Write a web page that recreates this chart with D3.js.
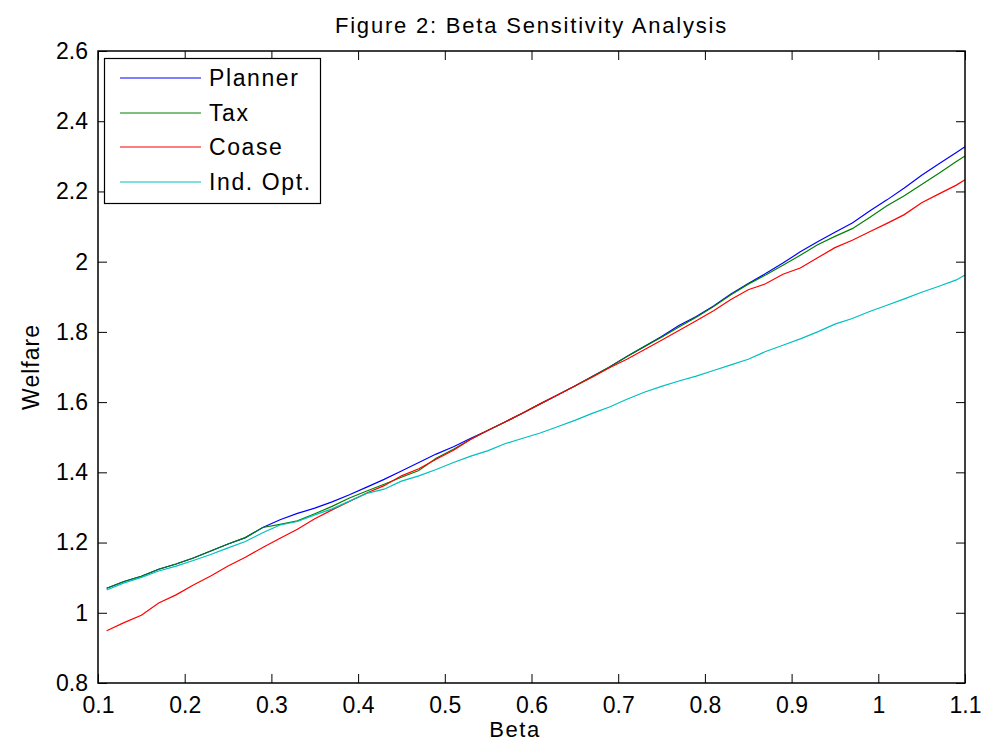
<!DOCTYPE html>
<html>
<head>
<meta charset="utf-8">
<script src="https://cdn.jsdelivr.net/npm/d3@7"></script>
<style>
  html, body { margin: 0; padding: 0; background: #fff; }
  svg { display: block; }
  text { font-family: "Liberation Sans", Arial, Helvetica, sans-serif; fill: #000; }
</style>
</head>
<body>
<svg id="chart" width="981" height="742"></svg>
<script>
const betas = [0.11,0.13,0.15,0.17,0.19,0.21,0.23,0.25,0.27,0.29,0.31,0.33,0.35,0.37,0.39,0.41,0.43,0.45,0.47,0.49,
  0.51,0.53,0.55,0.57,0.59,0.61,0.63,0.65,0.67,0.69,0.71,0.73,0.75,0.77,0.79,0.81,0.83,0.85,0.87,0.89,
  0.91,0.93,0.95,0.97,0.99,1.01,1.03,1.05,1.07,1.09,1.10];

const planner = [1.070,1.089,1.104,1.124,1.139,1.156,1.176,1.196,1.214,1.243,1.265,1.283,1.298,1.316,1.336,1.358,1.380,1.404,1.428,1.452,
  1.473,1.497,1.520,1.544,1.569,1.595,1.620,1.646,1.673,1.700,1.730,1.758,1.787,1.818,1.844,1.874,1.908,1.938,1.966,1.996,
  2.028,2.057,2.084,2.110,2.144,2.176,2.210,2.246,2.279,2.311,2.327];

const tax = [1.070,1.089,1.104,1.124,1.139,1.156,1.176,1.196,1.214,1.243,1.252,1.262,1.282,1.303,1.327,1.347,1.366,1.386,1.405,1.440,
  1.466,1.494,1.520,1.544,1.569,1.595,1.620,1.646,1.673,1.700,1.730,1.758,1.785,1.814,1.842,1.872,1.906,1.936,1.962,1.990,
  2.018,2.048,2.072,2.094,2.126,2.159,2.188,2.220,2.252,2.285,2.301];

const coase = [0.949,0.972,0.993,1.028,1.051,1.079,1.105,1.133,1.158,1.186,1.212,1.238,1.268,1.293,1.317,1.341,1.362,1.390,1.410,1.437,
  1.463,1.494,1.520,1.544,1.569,1.595,1.620,1.646,1.671,1.698,1.722,1.749,1.776,1.804,1.832,1.860,1.892,1.920,1.937,1.964,
  1.982,2.011,2.040,2.061,2.085,2.109,2.134,2.168,2.193,2.218,2.233];

const indOpt = [1.065,1.085,1.101,1.119,1.133,1.149,1.166,1.185,1.203,1.228,1.250,1.260,1.279,1.296,1.318,1.340,1.352,1.375,1.390,1.408,
  1.428,1.446,1.462,1.482,1.497,1.512,1.530,1.548,1.568,1.586,1.608,1.628,1.645,1.660,1.674,1.690,1.706,1.722,1.744,1.762,
  1.780,1.800,1.822,1.838,1.858,1.876,1.894,1.913,1.930,1.948,1.962];

const seriesNames = ["Planner", "Tax", "Coase", "Ind. Opt."];
const seriesColors = ["#0000ff", "#008000", "#ff0000", "#00bfbf"];
const xTicks = [0.1,0.2,0.3,0.4,0.5,0.6,0.7,0.8,0.9,1,1.1];
const yTicks = [0.8,1,1.2,1.4,1.6,1.8,2,2.2,2.4,2.6];
const titleText = "Figure 2: Beta Sensitivity Analysis";
const xLabel = "Beta";
const yLabel = "Welfare";

const allSeries = [planner, tax, coase, indOpt];

(function () {
  const L = 98, R = 965, T = 51, B = 683;
  const svg = d3.select("#chart");
  const x = d3.scaleLinear().domain([0.1, 1.1]).range([L, R]);
  const y = d3.scaleLinear().domain([0.8, 2.6]).range([B, T]);
  const fmt = d => String(+d.toFixed(2));

  // lines
  const line = d3.line().x(d => x(d[0])).y(d => y(d[1]));
  allSeries.forEach((s, i) => {
    svg.append("path")
      .datum(betas.map((b, k) => [b, s[k]]))
      .attr("fill", "none")
      .attr("stroke", seriesColors[i])
      .attr("stroke-width", 1.2)
      .attr("d", line);
  });

  // axes (inward ticks on all four sides)
  const tl = 9;
  const gBottom = svg.append("g").attr("transform", `translate(0,${B})`)
    .call(d3.axisBottom(x).tickValues(xTicks).tickFormat(fmt).tickSizeInner(-tl).tickSizeOuter(0).tickPadding(14));
  const gTop = svg.append("g").attr("transform", `translate(0,${T})`)
    .call(d3.axisTop(x).tickValues(xTicks).tickFormat("").tickSizeInner(-tl).tickSizeOuter(0));
  const gLeft = svg.append("g").attr("transform", `translate(${L},0)`)
    .call(d3.axisLeft(y).tickValues(yTicks).tickFormat(fmt).tickSizeInner(-tl).tickSizeOuter(0).tickPadding(10));
  const gRight = svg.append("g").attr("transform", `translate(${R},0)`)
    .call(d3.axisRight(y).tickValues(yTicks).tickFormat("").tickSizeInner(-tl).tickSizeOuter(0));

  [gBottom, gTop, gLeft, gRight].forEach(g => {
    g.select(".domain").remove();
    g.selectAll(".tick line").attr("stroke", "#000").attr("stroke-width", 1);
    g.selectAll(".tick text").style("font-size", "23px").attr("fill", "#000")
      .style("font-family", '"Liberation Sans", Arial, sans-serif');
  });

  // box
  svg.append("rect").attr("x", L).attr("y", T).attr("width", R - L).attr("height", B - T)
    .attr("fill", "none").attr("stroke", "#000").attr("stroke-width", 1.5);

  // title and labels
  svg.append("text").attr("x", (L + R) / 2).attr("y", 33).attr("text-anchor", "middle")
    .style("font-size", "22px").style("letter-spacing", "1.8px").text(titleText);
  svg.append("text").attr("x", 515).attr("y", 737).attr("text-anchor", "middle")
    .style("font-size", "22px").style("letter-spacing", "1.5px").text(xLabel);
  svg.append("text").attr("transform", `translate(39,${(T + B) / 2}) rotate(-90)`).attr("text-anchor", "middle")
    .style("font-size", "23px").style("letter-spacing", "1px").text(yLabel);

  // legend
  const lg = svg.append("g");
  lg.append("rect").attr("x", 104.5).attr("y", 58.5).attr("width", 216).attr("height", 145)
    .attr("fill", "#fff").attr("stroke", "#000").attr("stroke-width", 1.2);
  const rowY = [78, 113, 147, 182];
  seriesNames.forEach((n, i) => {
    lg.append("line").attr("x1", 120).attr("x2", 201).attr("y1", rowY[i]).attr("y2", rowY[i])
      .attr("stroke", seriesColors[i]).attr("stroke-width", 1.2);
    lg.append("text").attr("x", 209).attr("y", rowY[i]).attr("dy", "0.35em")
      .style("font-size", "23px").style("letter-spacing", "1.6px").text(n);
  });
})();
</script>
</body>
</html>
